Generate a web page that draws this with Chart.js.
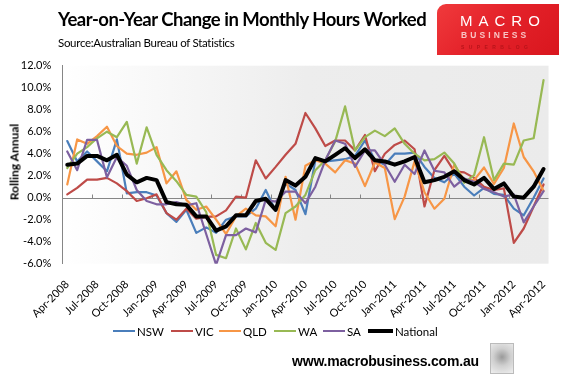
<!DOCTYPE html>
<html>
<head>
<meta charset="utf-8">
<script src="https://cdn.jsdelivr.net/npm/chart.js@4.4.0/dist/chart.umd.min.js"></script>
<style>
  body { margin: 0; background: #fff; }
  #wrap { position: relative; width: 567px; height: 377px; overflow: hidden; font-family: Lato, "Open Sans", sans-serif; }
  #c { position: absolute; left: 0; top: 0; }
  .abs { position: absolute; white-space: nowrap; }
  #title { left: 58px; top: 8px; font-size: 18.5px; font-weight: 700; letter-spacing: -0.5px; color: #000; }
  #source { left: 58px; top: 36px; font-size: 11.5px; letter-spacing: -0.3px; color: #000; }
  #logo { left: 437px; top: 4px; width: 122px; height: 51px; border-top-left-radius: 9px;
          background: linear-gradient(135deg, #f03a3c 0%, #e4222a 45%, #d9161e 100%); }
  #logo .m { position: absolute; left: 23px; top: 8px; font: 15px "Liberation Sans", Arial, sans-serif; letter-spacing: 6px; color: #fff; }
  #logo .b { position: absolute; left: 24px; top: 26px; font: bold 8.5px "Liberation Sans", Arial, sans-serif; letter-spacing: 3.1px; color: #f8c4c4; }
  #logo .s { position: absolute; left: 24px; top: 40px; font: bold 5px "Liberation Sans", Arial, sans-serif; letter-spacing: 4.4px; color: #b8141a; }
  #ytitle { left: 14px; top: 162px; transform: translate(-50%, -50%) rotate(-90deg); font-size: 12px; font-weight: 700; color: #000; }
  .leg { position: absolute; top: 324px; height: 14px; display: flex; align-items: center; font-size: 11.5px; color: #000; }
  .leg i { display: inline-block; width: 22px; height: 2.5px; margin-right: 2px; }
  #url { left: 292px; top: 353px; font: bold 14px "Liberation Sans", Arial, sans-serif; letter-spacing: -0.2px; color: #000; }
  #wolf { left: 490px; top: 343px; width: 22px; height: 29px; border: 1px solid #bbb;
          background: radial-gradient(circle at 50% 45%, #9a9a9a 0%, #cfcfcf 45%, #efefef 100%); }
</style>
</head>
<body>
<div id="wrap">
  <canvas id="c" width="567" height="377"></canvas>
  <div class="abs" id="title">Year-on-Year Change in Monthly Hours Worked</div>
  <div class="abs" id="source">Source:Australian Bureau of Statistics</div>
  <div class="abs" id="logo"><span class="m">MACRO</span><span class="b">BUSINESS</span><span class="s">SUPERBLOG</span></div>
  <div class="abs" id="ytitle">Rolling Annual</div>
  <div id="legend"></div>
  <div class="abs" id="url">www.macrobusiness.com.au</div>
  <div class="abs" id="wolf"></div>
</div>
<script>
"use strict";

// Months, Apr-2008 .. Apr-2012
const months = [
    "Apr-2008", "May-2008", "Jun-2008", "Jul-2008", "Aug-2008", "Sep-2008",
    "Oct-2008", "Nov-2008", "Dec-2008", "Jan-2009", "Feb-2009", "Mar-2009",
    "Apr-2009", "May-2009", "Jun-2009", "Jul-2009", "Aug-2009", "Sep-2009",
    "Oct-2009", "Nov-2009", "Dec-2009", "Jan-2010", "Feb-2010", "Mar-2010",
    "Apr-2010", "May-2010", "Jun-2010", "Jul-2010", "Aug-2010", "Sep-2010",
    "Oct-2010", "Nov-2010", "Dec-2010", "Jan-2011", "Feb-2011", "Mar-2011",
    "Apr-2011", "May-2011", "Jun-2011", "Jul-2011", "Aug-2011", "Sep-2011",
    "Oct-2011", "Nov-2011", "Dec-2011", "Jan-2012", "Feb-2012", "Mar-2012",
    "Apr-2012",
];

// Year-on-year change, %
const nsw = [
    5.15, 3.3, 4.2, 3.3, 2.4, 5.3, 0.4, 0.5, 0.5, 0.2, -1.4, -2.2, -1.1,
    -3.2, -2.7, -3.2, -2.0, -1.7, -1.7, -1.0, 0.7, -1.2, 1.3, 0.7, -1.5,
    3.4, 3.3, 3.4, 3.5, 3.8, 5.2, 3.4, 3.0, 4.0, 4.0, 4.1, 2.8, 1.8, 1.4,
    2.2, 1.0, 0.2, 0.9, 0.35, 0.25, -1.0, -1.6, 0.0, 1.75,
];
const vic = [
    0.3, 0.9, 1.65, 1.65, 1.8, 1.3, 0.6, -0.3, -0.05, 0.3, -1.4, -2.0, -1.0,
    -1.9, -1.75, -1.7, -1.15, 0.1, 0.0, 3.4, 1.75, 2.8, 3.9, 4.9, 7.7,
    6.3, 4.7, 5.2, 5.2, 4.3, 5.7, 2.4, 4.0, 4.8, 5.2, 4.4, -0.8, 2.5, 3.8,
    2.4, 2.3, 1.8, 1.0, 0.7, 0.85, -4.1, -2.8, -0.8, 1.2,
];
const qld = [
    1.2, 5.3, 4.9, 5.6, 6.45, 4.7, 4.0, 3.9, 4.1, 4.6, 1.3, 2.4, -0.2,
    -1.1, -0.8, -2.0, -3.3, -1.7, -1.0, -1.6, -1.7, -2.6, 1.9, -2.0, 2.9,
    3.4, 3.1, 2.3, 3.4, 3.1, 1.05, 3.2, 2.7, -1.95, 0.1, 3.3, 0.5, -1.0, -0.1,
    3.0, 1.6, 1.6, 2.75, 1.25, 2.7, 6.75, 3.7, 2.4, 0.6,
];
const wa = [
    2.7, 4.0, 4.6, 5.4, 6.0, 5.5, 6.9, 3.1, 6.4, 3.9, 2.5, 1.5, 0.25,
    0.1, -1.3, -5.2, -5.5, -2.8, -4.7, -2.3, -4.1, -4.75, -1.4, -0.8, 0.25,
    2.5, 3.4, 5.1, 8.3, 4.3, 5.5, 6.1, 5.6, 6.3, 4.9, 4.0, 3.4, 3.5, 4.1,
    3.1, 1.35, 2.05, 5.5, 1.6, 3.1, 3.0, 5.2, 5.4, 10.7,
];
const sa = [
    4.2, 2.5, 5.25, 5.25, 1.85, 3.7, 2.9, 0.7, -0.3, -0.6, -0.6, -0.4, -0.7,
    -0.5, -3.3, -6.1, -3.4, -3.4, -2.8, -3.15, -0.2, -0.35, 0.55, 0.55, -0.5,
    1.0, 3.4, 5.2, 4.9, 2.8, 4.3, 4.3, 3.0, 1.45, 3.0, 2.15, 4.3, 2.45, 2.3,
    1.0, 1.75, 1.45, 0.8, 0.5, 0.1, 0.3, -2.25, -0.8, 0.6,
];
const national = [
    3.0, 3.1, 3.8, 3.8, 3.4, 3.9, 2.1, 1.4, 1.8, 1.6, -0.4, -0.6, -0.65,
    -1.7, -1.7, -3.0, -2.6, -1.6, -1.6, -0.3, -0.1, -1.1, 1.6, 1.1, 1.9,
    3.6, 3.3, 3.9, 4.5, 3.6, 4.4, 3.4, 3.3, 3.0, 3.3, 3.7, 1.4, 1.6, 1.9,
    2.4, 1.6, 1.2, 1.8, 0.8, 1.3, 0.1, 0.0, 1.0, 2.6,
];

const yTicks = [-6, -4, -2, 0, 2, 4, 6, 8, 10, 12];

const series = [
    { label: "NSW", data: nsw, color: "#4a7ebb", width: 2.2, order: 5 },
    { label: "VIC", data: vic, color: "#be4b48", width: 2.2, order: 4 },
    { label: "QLD", data: qld, color: "#f79646", width: 2.2, order: 3 },
    { label: "WA", data: wa, color: "#98b954", width: 2.2, order: 2 },
    { label: "SA", data: sa, color: "#7d60a0", width: 2.2, order: 1 },
    { label: "National", data: national, color: "#000000", width: 4, order: 0 },
];

// gradient plot area, drawn under the axes
const plotFill = {
    id: "plotFill",
    beforeDraw(chart) {
        const { ctx, chartArea: a } = chart;
        const g = ctx.createLinearGradient(a.left, 0, a.right, 0);
        g.addColorStop(0, "#ffffff");
        g.addColorStop(0.5, "#ededed");
        g.addColorStop(1, "#ebebeb");
        ctx.save();
        ctx.fillStyle = g;
        ctx.fillRect(a.left, a.top, a.right - a.left, a.bottom - a.top);
        ctx.restore();
    },
};

// category axis crosses at 0%, tick marks every 3 months
const zeroAxis = {
    id: "zeroAxis",
    beforeDatasetsDraw(chart) {
        const { ctx, chartArea: a, scales } = chart;
        const x = scales.x;
        const y0 = Math.round(scales.y.getPixelForValue(0)) + 0.5;
        const half = (x.getPixelForValue(1) - x.getPixelForValue(0)) / 2;
        ctx.save();
        ctx.strokeStyle = "#868686";
        ctx.lineWidth = 1;
        ctx.beginPath();
        ctx.moveTo(a.left, y0);
        ctx.lineTo(a.right, y0);
        for (let i = 0; i < months.length; i += 3) {
            const px = Math.round(x.getPixelForValue(i) - half) + 0.5;
            ctx.moveTo(px, y0);
            ctx.lineTo(px, y0 - 4);
        }
        ctx.stroke();
        ctx.restore();
    },
};

new Chart(document.getElementById("c"), {
    type: "line",
    data: {
        labels: months,
        datasets: series.map((s) => ({
            label: s.label,
            data: s.data,
            borderColor: s.color,
            backgroundColor: s.color,
            borderWidth: s.width,
            order: s.order,
            pointRadius: 0,
            tension: 0,
            borderJoinStyle: "round",
            borderCapStyle: "round",
            fill: false,
        })),
    },
    options: {
        responsive: false,
        animation: false,
        devicePixelRatio: 1,
        layout: { padding: { top: 65.7, right: 9.8, left: 0, bottom: 0 } },
        plugins: {
            legend: { display: false },
            tooltip: { enabled: false },
        },
        scales: {
            x: {
                offset: true,
                grid: { display: false, drawTicks: false },
                border: { display: false },
                ticks: {
                    autoSkip: false,
                    minRotation: 45,
                    maxRotation: 45,
                    padding: 14,
                    color: "#000",
                    font: { family: "Lato", size: 11 },
                    callback: (v, i) => (i % 3 === 0 ? months[i] : null),
                },
                afterFit: (scale) => {
                    scale.height = 113.3;
                },
            },
            y: {
                min: -6,
                max: 12,
                afterBuildTicks: (scale) => {
                    scale.ticks = yTicks.map((v) => ({ value: v }));
                },
                grid: { display: false, drawTicks: false },
                border: { display: true, color: "#868686", width: 1 },
                ticks: {
                    padding: 11,
                    color: "#000",
                    font: { family: "Lato", size: 11 },
                    callback: (v) => v.toFixed(1) + "%",
                },
                afterFit: (scale) => {
                    scale.width = 62.3;
                },
            },
        },
    },
    plugins: [plotFill, zeroAxis],
});

// legend, laid out like the original
const legendLeft = [113, 171, 219, 274, 323, 368];
const legendEl = document.getElementById("legend");
series.forEach((s, i) => {
    const item = document.createElement("div");
    item.className = "leg";
    item.style.left = legendLeft[i] + "px";
    const mark = document.createElement("i");
    mark.style.background = s.color;
    if (s.label === "National") {
        mark.style.height = "4px";
        mark.style.width = "25px";
    }
    item.appendChild(mark);
    item.appendChild(document.createTextNode(s.label));
    legendEl.appendChild(item);
});
</script>
</body>
</html>
